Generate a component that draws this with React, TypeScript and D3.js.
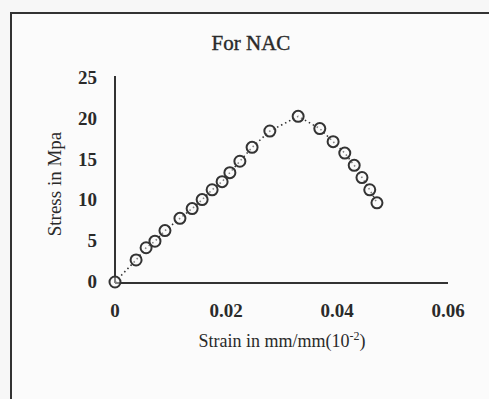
import * as d3 from 'd3'

// strain (mm/mm) and stress (MPa)
const strain = [0, 0.0038, 0.0056, 0.0072, 0.009, 0.0117, 0.0139, 0.0157, 0.0175, 0.0193, 0.0207, 0.0225, 0.0247, 0.0279, 0.033, 0.0369, 0.0393, 0.0414, 0.0431, 0.0445, 0.0459, 0.0472]
const stress = [0, 2.7, 4.2, 5.0, 6.3, 7.8, 9.0, 10.1, 11.3, 12.3, 13.4, 14.8, 16.5, 18.5, 20.3, 18.8, 17.2, 15.8, 14.3, 12.8, 11.3, 9.7]
const xTicks = [0, 0.02, 0.04, 0.06]
const yTicks = [0, 5, 10, 15, 20, 25]

const W = 489
const H = 399
const FONT = '"Liberation Serif", "Times New Roman", serif'

export default function App() {
  const x = d3.scaleLinear().domain([0, 0.06]).range([115, 448])
  const y = d3.scaleLinear().domain([0, 25]).range([282, 78])
  const pts = strain.map((s, i) => [s, stress[i]] as [number, number])
  const line = d3.line<[number, number]>().x(d => x(d[0])).y(d => y(d[1]))

  return (
    <svg width={W} height={H} style={{ position: 'absolute', left: 0, top: 0, background: '#f7f7f7' }}>
      <rect x={11} y={13} width={W + 10} height={H + 10} fill="#fbfbfb" stroke="#333" strokeWidth={2} />
      <text x={251} y={50} textAnchor="middle" fontFamily={FONT} fontSize={21} fill="#2a2a2a" stroke="#2a2a2a" strokeWidth={0.4}>For NAC</text>

      {/* axes */}
      <line x1={x(0)} x2={x(0)} y1={y(25) - 2} y2={y(0) + 1} stroke="#333" strokeWidth={2} />
      <line x1={x(0)} x2={x(0.06)} y1={y(0) + 1} y2={y(0) + 1} stroke="#333" strokeWidth={2} />

      {yTicks.map(t => (
        <text key={t} x={97} y={y(t) + 6} textAnchor="end" fontFamily={FONT} fontSize={19} fontWeight="bold" fill="#2a2a2a">{t}</text>
      ))}
      {xTicks.map(t => (
        <text key={t} x={x(t)} y={317} textAnchor="middle" fontFamily={FONT} fontSize={19} fontWeight="bold" fill="#2a2a2a">{t === 0 ? '0' : t.toFixed(2)}</text>
      ))}

      <text transform={`translate(61,184) rotate(-90)`} textAnchor="middle" fontFamily={FONT} fontSize={19} fill="#2a2a2a">Stress in Mpa</text>
      <text x={282} y={347} textAnchor="middle" fontFamily={FONT} fontSize={18} fill="#2a2a2a">
        Strain in mm/mm(10<tspan dy={-7} fontSize={12}>-2</tspan><tspan dy={7}>)</tspan>
      </text>

      {/* curve */}
      <path d={line(pts) ?? ''} fill="none" stroke="#333" strokeWidth={1.6} strokeDasharray="1.5 3" />
      {pts.map((d, i) => (
        <circle key={i} cx={x(d[0])} cy={y(d[1])} r={5.5} fill="#fbfbfb" fillOpacity={0.4} stroke="#333" strokeWidth={2} />
      ))}
    </svg>
  )
}
